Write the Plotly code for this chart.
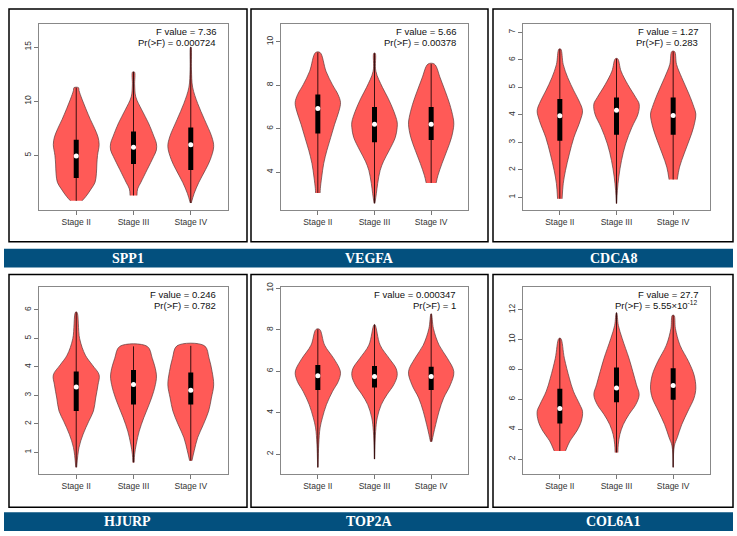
import plotly.graph_objects as go

# Violin panels: expression by tumour stage, one panel per gene
genes = ["SPP1", "VEGFA", "CDCA8", "HJURP", "TOP2A", "COL6A1"]
stages = ["Stage II", "Stage III", "Stage IV"]
f_text = ["F value = 7.36", "F value = 5.66", "F value = 1.27",
          "F value = 0.246", "F value = 0.000347", "F value = 27.7"]
p_text = ["Pr(>F) = 0.000724", "Pr(>F) = 0.00378", "Pr(>F) = 0.283",
          "Pr(>F) = 0.782", "Pr(>F) = 1", "Pr(>F) = 5.55×10<sup>-12</sup>"]
y_ranges = [[-0.05, 17.1], [2.25, 10.8], [0.54, 7.29],
            [0.26, 6.79], [1.06, 10.05], [1.03, 13.5]]
y_ticks = [[5, 10, 15], [4, 6, 8, 10], [1, 2, 3, 4, 5, 6, 7],
           [1, 2, 3, 4, 5, 6], [2, 4, 6, 8, 10], [2, 4, 6, 8, 10, 12]]

# density profiles: y levels and relative half-widths
spp1_y = [[0.8, 1.2, 1.9, 2.5, 3.3, 4.2, 5.0, 6.0, 6.7, 7.5, 8.3, 9.3, 10.2, 11.0, 11.25],
          [1.3, 1.9, 2.5, 3.7, 4.9, 5.5, 6.1, 6.7, 8.0, 9.2, 10.4, 11.5, 12.7],
          [0.6, 1.5, 2.5, 3.7, 4.6, 5.8, 6.7, 8.3, 9.8, 11.3, 12.9, 15.0]]
spp1_w = [[0.25, 0.42, 0.65, 0.82, 0.88, 0.9, 0.93, 1.0, 0.95, 0.8, 0.62, 0.42, 0.25, 0.12, 0.1],
          [0.15, 0.18, 0.32, 0.6, 0.88, 1.0, 1.0, 0.9, 0.65, 0.36, 0.1, 0.05, 0.04],
          [0.02, 0.15, 0.35, 0.65, 0.85, 1.0, 0.92, 0.6, 0.3, 0.08, 0.03, 0.01]]
spp1_box = [[2.92, 4.2, 3.65], [4.95, 5.76, 5.98], [6.44, 7.2, 7.57]]

vegfa_y = [[3.04, 3.24, 3.77, 4.4, 5.0, 5.6, 6.2, 6.8, 7.2, 7.57, 8.03, 8.64, 9.5],
           [2.56, 3.0, 3.47, 4.08, 4.5, 5.0, 5.6, 6.05, 6.3, 6.8, 7.4, 7.9, 8.64, 9.47],
           [3.5, 3.85, 4.4, 5.0, 5.6, 6.2, 6.5, 7.12, 7.72, 8.33, 8.97]]
vegfa_w = [[0.1, 0.11, 0.17, 0.26, 0.4, 0.57, 0.74, 0.93, 1.0, 0.89, 0.64, 0.36, 0.1],
           [0.02, 0.08, 0.14, 0.25, 0.4, 0.65, 0.92, 1.0, 1.0, 0.85, 0.6, 0.35, 0.06, 0.03],
           [0.22, 0.3, 0.48, 0.7, 0.9, 1.0, 0.97, 0.82, 0.62, 0.4, 0.14]]
vegfa_box = [[5.78, 5.37, 5.47], [6.93, 6.2, 6.2], [7.57, 7.0, 7.0]]

cdca8_y = [[0.95, 1.5, 1.98, 2.58, 3.18, 3.79, 4.15, 4.5, 4.87, 5.35, 5.83, 6.39],
           [0.78, 1.26, 1.74, 2.34, 2.94, 3.55, 4.03, 4.39, 4.63, 5.1, 5.59, 6.04],
           [1.65, 2.1, 2.58, 3.06, 3.55, 4.03, 4.27, 4.75, 5.35, 5.83, 6.3]]
cdca8_w = [[0.1, 0.15, 0.25, 0.42, 0.62, 0.9, 1.0, 0.85, 0.62, 0.35, 0.15, 0.04],
           [0.01, 0.04, 0.1, 0.22, 0.4, 0.68, 0.95, 1.0, 0.85, 0.5, 0.2, 0.05],
           [0.18, 0.28, 0.48, 0.7, 0.9, 1.0, 0.92, 0.7, 0.38, 0.15, 0.06]]
cdca8_box = [[3.06, 3.28, 3.28], [3.97, 4.17, 3.98], [4.58, 4.63, 4.63]]

hjurp_y = [[0.48, 1.17, 1.64, 2.1, 2.45, 2.91, 3.37, 3.72, 4.07, 4.41, 4.99, 5.92],
           [0.65, 0.94, 1.29, 1.75, 2.22, 2.68, 3.14, 3.6, 3.84, 4.3, 4.72],
           [0.71, 1.06, 1.52, 1.98, 2.45, 2.91, 3.37, 3.84, 4.3, 4.74]]
hjurp_w = [[0.02, 0.12, 0.3, 0.55, 0.75, 0.85, 0.95, 1.0, 0.7, 0.4, 0.15, 0.03],
           [0.03, 0.05, 0.12, 0.25, 0.45, 0.68, 0.88, 1.0, 0.98, 0.82, 0.6],
           [0.05, 0.15, 0.3, 0.55, 0.78, 0.9, 1.0, 0.93, 0.8, 0.6]]
hjurp_box = [[2.45, 2.68, 2.68], [3.3, 3.38, 3.18], [3.84, 3.89, 3.8]]

top2a_y = [[1.36, 2.48, 3.27, 3.75, 4.39, 5.03, 5.5, 5.9, 6.14, 6.62, 7.26, 8.02],
           [1.76, 3.1, 3.75, 4.39, 4.87, 5.35, 5.79, 6.14, 6.62, 7.26, 8.25],
           [2.6, 2.96, 3.43, 4.07, 4.71, 5.35, 5.98, 6.62, 7.26, 8.06, 8.77]]
top2a_w = [[0.01, 0.04, 0.1, 0.2, 0.38, 0.65, 0.9, 1.0, 0.95, 0.7, 0.3, 0.08],
           [0.01, 0.05, 0.12, 0.3, 0.55, 0.85, 1.0, 0.95, 0.65, 0.25, 0.02],
           [0.03, 0.1, 0.2, 0.35, 0.55, 0.85, 1.0, 0.72, 0.35, 0.1, 0.01]]
top2a_box = [[5.1, 5.22, 5.1], [5.78, 5.75, 5.75], [6.3, 6.25, 6.22]]

col6a1_y = [[2.55, 3.22, 3.88, 4.54, 5.2, 5.65, 6.54, 7.42, 8.75, 10.08],
            [2.44, 3.0, 3.66, 4.32, 4.99, 5.65, 6.31, 6.98, 7.86, 8.75, 10.08, 10.96, 11.8],
            [1.45, 2.88, 3.44, 4.32, 5.21, 6.09, 6.76, 7.64, 8.53, 9.63, 10.74, 11.62]]
col6a1_w = [[0.25, 0.45, 0.75, 0.95, 1.0, 0.88, 0.6, 0.42, 0.2, 0.04],
            [0.06, 0.08, 0.15, 0.3, 0.55, 0.85, 1.0, 0.88, 0.72, 0.55, 0.25, 0.08, 0.01],
            [0.01, 0.05, 0.18, 0.38, 0.65, 0.92, 1.0, 0.92, 0.68, 0.3, 0.1, 0.04]]
col6a1_box = [[4.39, 5.8, 5.98], [5.38, 6.76, 6.93], [6.71, 8.13, 8.08]]

prof_y = [spp1_y, vegfa_y, cdca8_y, hjurp_y, top2a_y, col6a1_y]
prof_w = [spp1_w, vegfa_w, cdca8_w, hjurp_w, top2a_w, col6a1_w]
boxes = [spp1_box, vegfa_box, cdca8_box, hjurp_box, top2a_box, col6a1_box]

W, H = 737, 536
HALF = 0.4
VIOLIN = "#FF5A57"

# pixel layout
plot_x = [(39, 228), (281, 468), (523, 710)]
plot_y = [(19.5, 207), (285, 473)]
frame_x = [(9, 247), (251, 488), (493, 733)]
frame_y = [(4, 239), (272, 507)]
banner_y = [(246, 265), (512, 531)]

def px(x):
    return x / W

def py(y):
    return 1 - y / H

fig = go.Figure()
shapes = []
annotations = []
txtfont = dict(family="Liberation Sans, Arial", size=9.5, color="#111")

for g in range(6):
    r, c = divmod(g, 3)
    xa = "x" if g == 0 else "x%d" % (g + 1)
    ya = "y" if g == 0 else "y%d" % (g + 1)
    for s in range(3):
        cx = s + 1
        ys = prof_y[g][s]
        ws = prof_w[g][s]
        xs = [cx + HALF * w for w in ws] + [cx - HALF * w for w in ws[::-1]]
        yy = ys + ys[::-1]
        fig.add_trace(go.Scatter(x=xs, y=yy, xaxis=xa, yaxis=ya, mode="lines",
                                 fill="toself", fillcolor=VIOLIN,
                                 line=dict(color="#5a3a3a", width=0.7, shape="spline", smoothing=1.0),
                                 hoverinfo="skip", showlegend=False))
        fig.add_trace(go.Scatter(x=[cx, cx], y=[min(ys), max(ys)], xaxis=xa, yaxis=ya,
                                 mode="lines", line=dict(color="#3a1010", width=1),
                                 hoverinfo="skip", showlegend=False))
        q1, med, q3 = boxes[g][0][s], boxes[g][1][s], boxes[g][2][s]
        fig.add_trace(go.Scatter(x=[cx, cx], y=[q1, q3], xaxis=xa, yaxis=ya,
                                 mode="lines", line=dict(color="black", width=5),
                                 hoverinfo="skip", showlegend=False))
        fig.add_trace(go.Scatter(x=[cx], y=[med], xaxis=xa, yaxis=ya, mode="markers",
                                 marker=dict(color="white", size=5),
                                 hoverinfo="skip", showlegend=False))

    x0, x1 = plot_x[c]
    y0, y1 = plot_y[r]
    axfont = dict(family="Liberation Sans, Arial", size=8.5, color="#333")
    fig.layout["xaxis" if g == 0 else "xaxis%d" % (g + 1)] = dict(
        domain=[px(x0), px(x1)], anchor=ya, range=[0.35, 3.65],
        tickvals=[1, 2, 3], ticktext=stages, ticks="outside", ticklen=4,
        tickcolor="#777", showline=True, mirror=True, linecolor="#888",
        linewidth=1, showgrid=False, zeroline=False, tickfont=axfont, fixedrange=True)
    fig.layout["yaxis" if g == 0 else "yaxis%d" % (g + 1)] = dict(
        domain=[py(y1), py(y0)], anchor=xa, range=y_ranges[g], tickvals=y_ticks[g],
        tickangle=-90, ticks="outside", ticklen=4, tickcolor="#777",
        showline=True, mirror=True, linecolor="#888", linewidth=1,
        showgrid=False, zeroline=False, tickfont=axfont, fixedrange=True)

    annotations.append(dict(text=f_text[g], xref="paper", yref="paper",
                            x=px(x1 - 10), y=py(y0 + 7), xanchor="right", yanchor="middle",
                            showarrow=False, font=txtfont))
    annotations.append(dict(text=p_text[g], xref="paper", yref="paper",
                            x=px(x1 - 10), y=py(y0 + 18), xanchor="right", yanchor="middle",
                            showarrow=False, font=txtfont))

    fx0, fx1 = frame_x[c]
    fy0, fy1 = frame_y[r]
    shapes.append(dict(type="rect", xref="paper", yref="paper",
                       x0=px(fx0), x1=px(fx1), y0=py(fy1), y1=py(fy0),
                       line=dict(color="black", width=1.5)))
    annotations.append(dict(text="<b>%s</b>" % genes[g], xref="paper", yref="paper",
                            x=px((fx0 + fx1) / 2), y=py(sum(banner_y[r]) / 2),
                            xanchor="center", yanchor="middle", showarrow=False,
                            font=dict(family="Liberation Serif, serif", size=14, color="white")))

for b0, b1 in banner_y:
    shapes.append(dict(type="rect", xref="paper", yref="paper", layer="below",
                       x0=px(4), x1=px(733), y0=py(b1), y1=py(b0),
                       fillcolor="#03507E", line=dict(width=0)))

fig.update_layout(width=W, height=H, margin=dict(l=0, r=0, t=0, b=0),
                  paper_bgcolor="white", plot_bgcolor="white",
                  shapes=shapes, annotations=annotations, showlegend=False)

# page body has a default 8px margin; drop it so the figure sits at the window corner
fig.write_html("out.html", config={"displayModeBar": False},
               post_script="document.body.style.margin='0';")
